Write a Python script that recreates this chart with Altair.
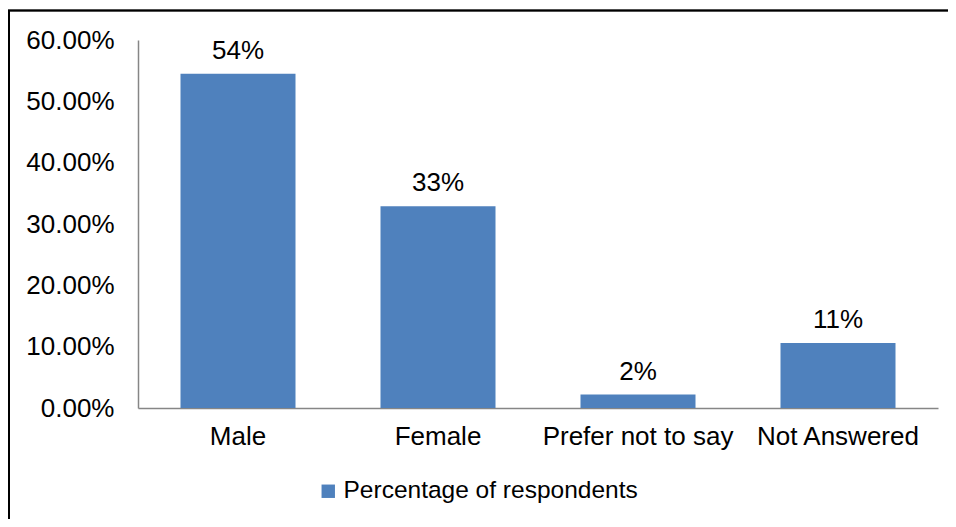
import altair as alt
import pandas as pd

categories = ["Male", "Female", "Prefer not to say", "Not Answered"]
values = [0.545, 0.329, 0.022, 0.106]
labels = ["54%", "33%", "2%", "11%"]
series = ["Percentage of respondents"] * 4
y_ticks = [0.0, 0.1, 0.2, 0.3, 0.4, 0.5, 0.6]

df = pd.DataFrame({"cat": categories, "val": values, "lab": labels, "series": series})

FONT = "Liberation Sans"
BLUE = "#4F81BD"
GRAY = "#868686"
FS = 26

x = alt.X("cat:N", sort=categories,
          scale=alt.Scale(paddingInner=0.425, paddingOuter=0.2125),
          axis=alt.Axis(title=None, labelAngle=0, ticks=False, domainColor=GRAY,
                        domainWidth=1.5, labelFontSize=FS, labelFont=FONT,
                        labelColor="black", labelPadding=15, grid=False,
                        labelLimit=0))
y = alt.Y("val:Q", scale=alt.Scale(domain=[0, 0.6], nice=False),
          axis=alt.Axis(title=None, values=y_ticks, format=".2%", ticks=False,
                        domainColor=GRAY, domainWidth=1.5, labelFontSize=FS,
                        labelFont=FONT, labelColor="black", labelPadding=24,
                        grid=False, labelLimit=0))

bars = alt.Chart(df).mark_bar(color=BLUE).encode(
    x=x, y=y,
    color=alt.Color("series:N", scale=alt.Scale(range=[BLUE]),
                    legend=alt.Legend(title=None, orient="none", legendX=178, legendY=439,
                                      symbolType="square", symbolSize=180,
                                      symbolStrokeWidth=0, labelFontSize=24.5,
                                      labelFont=FONT, labelColor="black",
                                      labelOffset=3, labelLimit=0))
)

text = alt.Chart(df).mark_text(baseline="alphabetic", dy=-15, fontSize=FS,
                               font=FONT, color="black").encode(
    x=alt.X("cat:N", sort=categories), y="val:Q", text="lab:N")

top_border = alt.Chart(df).mark_rule(color="black", strokeWidth=1.5, clip=False).encode(
    x=alt.value(-130), x2=alt.value(830), y=alt.value(-29.5))
left_border = alt.Chart(df).mark_rule(color="black", strokeWidth=2, clip=False).encode(
    x=alt.value(-129), y=alt.value(-30), y2=alt.value(490))

chart = alt.layer(bars, text, top_border, left_border).properties(
    width=800, height=368,
    autosize=alt.AutoSizeParams(type="none"),
    padding={"left": 130, "top": 32, "right": 10, "bottom": 111},
).configure_view(stroke=None)

chart.save("out.html", embed_options={"renderer": "svg", "actions": False})
